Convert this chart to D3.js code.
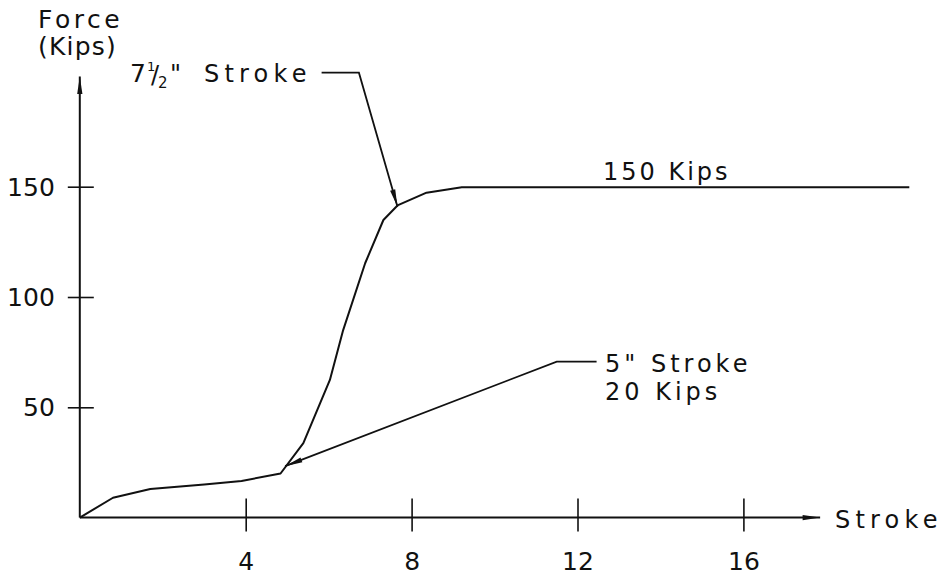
<!DOCTYPE html>
<html>
<head>
<meta charset="utf-8">
<script src="https://cdn.jsdelivr.net/npm/d3@7"></script>
<style>
  html, body { margin: 0; padding: 0; background: #fff; }
  svg { display: block; }
  text { font-family: "DejaVu Sans", sans-serif; fill: #111; }
</style>
</head>
<body>
<svg id="chart" width="948" height="581"></svg>
<script>
// ---- data ----
const strokeIn = [0, 0.8, 1.7, 3.0, 3.9, 4.84, 5.39, 6.03, 6.35, 6.88, 7.32, 7.66, 8.36, 9.21, 20];
const forceKips = [0, 9, 13, 15, 16.6, 20, 33.8, 62.4, 85, 115.3, 134.9, 141.5, 147.3, 149.8, 149.8];
const xTicks = [4, 8, 12, 16];
const yTicks = [50, 100, 150];
// annotation leader paths in data units [stroke, force]
const leader75 = [[5.83, 201.7], [6.73, 201.7], [7.66, 140.9]];
const leader5 = [[12.46, 70.7], [11.5, 70.7], [4.95, 23.3]];

// ---- layout ----
const svg = d3.select("#chart");
const x = d3.scaleLinear().domain([0, 20]).range([79.8, 909.3]);
const y = d3.scaleLinear().domain([0, 200]).range([517.6, 76.4]);
const ink = "#111";
const fs = 24;

// arrow marker
const defs = svg.append("defs");
defs.append("marker")
  .attr("id", "arr").attr("viewBox", "0 0 20 8")
  .attr("refX", 20).attr("refY", 4)
  .attr("markerWidth", 20).attr("markerHeight", 7)
  .attr("markerUnits", "userSpaceOnUse")
  .attr("orient", "auto")
  .append("path").attr("d", "M0,1 L20,4 L0,7 Z").attr("fill", ink);

// axes lines with arrows
svg.append("line")
  .attr("x1", x(0)).attr("y1", y(0)).attr("x2", x(17.85)).attr("y2", y(0))
  .attr("stroke", ink).attr("stroke-width", 2).attr("marker-end", "url(#arr)");
svg.append("line")
  .attr("x1", x(0)).attr("y1", y(0)).attr("x2", x(0)).attr("y2", y(200))
  .attr("stroke", ink).attr("stroke-width", 2).attr("marker-end", "url(#arr)");

// x axis ticks
const xAxis = d3.axisBottom(x).tickValues(xTicks).tickSize(0).tickFormat(d3.format("d"));
const gx = svg.append("g").attr("transform", `translate(0,${y(0)})`).call(xAxis);
gx.select(".domain").remove();
gx.selectAll(".tick line").attr("y1", -19).attr("y2", 14).attr("stroke", ink).attr("stroke-width", 1.6);
gx.selectAll(".tick text").attr("y", 52).attr("dy", null).attr("font-size", 25)
  .attr("font-family", "DejaVu Sans").attr("fill", ink).attr("letter-spacing", 0);

// y axis ticks
const yAxis = d3.axisLeft(y).tickValues(yTicks).tickSize(0).tickFormat(d3.format("d"));
const gy = svg.append("g").attr("transform", `translate(${x(0)},0)`).call(yAxis);
gy.select(".domain").remove();
gy.selectAll(".tick line").attr("x1", -12).attr("x2", 14).attr("stroke", ink).attr("stroke-width", 1.6);
gy.selectAll(".tick text").attr("x", -25).attr("dy", "0.34em").attr("font-size", 25)
  .attr("font-family", "DejaVu Sans").attr("fill", ink).attr("letter-spacing", 0);

// curve
const pts = strokeIn.map((s, i) => [s, forceKips[i]]);
const line = d3.line().x(d => x(d[0])).y(d => y(d[1]));
svg.append("path").datum(pts).attr("d", line)
  .attr("fill", "none").attr("stroke", ink).attr("stroke-width", 2).attr("stroke-linejoin", "round");

// leaders
[leader75, leader5].forEach(L => {
  svg.append("path").datum(L).attr("d", line)
    .attr("fill", "none").attr("stroke", ink).attr("stroke-width", 1.8)
    .attr("marker-end", "url(#arr)");
});

// texts
function label(tx, ty, str, ls, size) {
  return svg.append("text").attr("x", tx).attr("y", ty).attr("font-size", size || fs)
    .attr("letter-spacing", ls).text(str);
}
label(38, 28, "Force", 3.5, 25);
label(38, 55, "(Kips)", 1.2, 25);
label(835, 528, "Stroke", 5.2, 24);
label(603, 180, "150 Kips", 3, 24);
label(605, 372, "5\" Stroke", 4, 24);
label(605, 400, "20 Kips", 4, 24);

// 7 1/2" Stroke (built-up fraction, one text element)
const t75 = svg.append("text").attr("x", 130).attr("y", 82).attr("font-size", 25);
t75.append("tspan").attr("x", 130).attr("y", 82).text("7");
t75.append("tspan").attr("x", 147).attr("y", 71).attr("font-size", 13).text("1");
t75.append("tspan").attr("x", 151).attr("y", 83).attr("font-size", 24).text("/");
t75.append("tspan").attr("x", 158).attr("y", 88).attr("font-size", 15).text("2");
t75.append("tspan").attr("x", 170).attr("y", 82).attr("font-size", 24).text("\"");
t75.append("tspan").attr("x", 204).attr("y", 82).attr("font-size", 24).attr("letter-spacing", 5.2).text("Stroke");
</script>
</body>
</html>
